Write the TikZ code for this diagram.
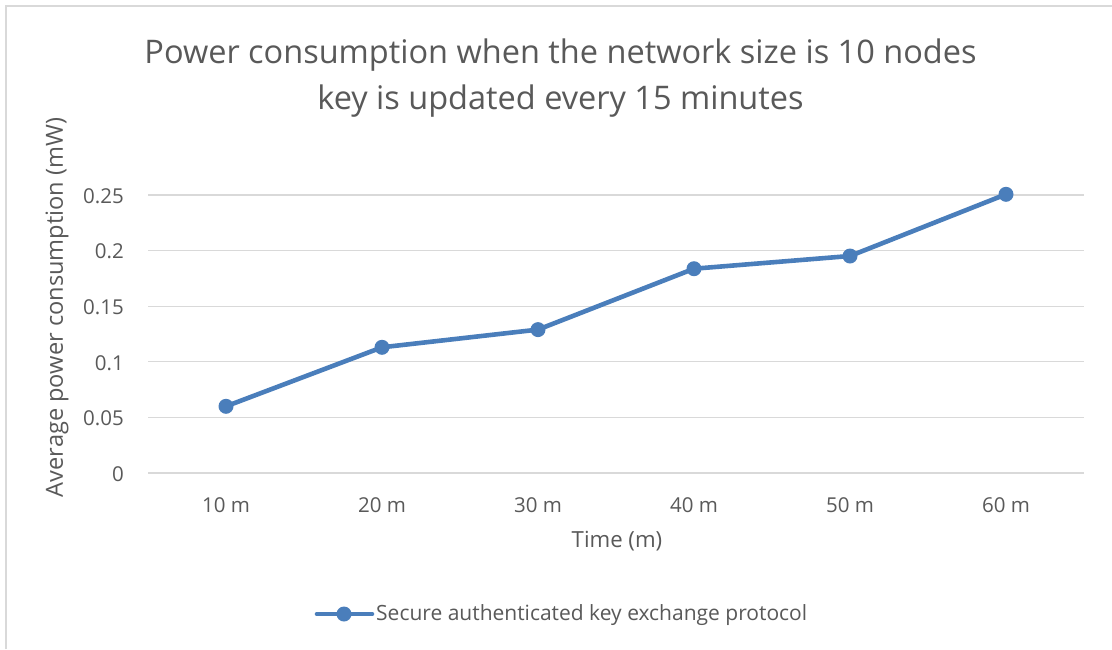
\documentclass[tikz,border=0pt]{standalone}
\usepackage{fontspec}
\setmainfont{Open Sans}
\definecolor{txt}{HTML}{595959}
\definecolor{grid}{HTML}{D9D9D9}
\definecolor{series}{HTML}{4A7EBB}
\tikzset{
  lbl/.style={text=txt, inner sep=0pt, anchor=base},
  ticklbl/.style={lbl, font=\fontsize{20.5}{24}\selectfont},
  gridline/.style={draw=grid, line width=1.3pt},
  frameline/.style={draw=grid, line width=1.6pt},
  seriesline/.style={draw=series, line width=4.6pt, line join=round, line cap=round},
  dot/.style={circle, fill=series, minimum size=15pt, inner sep=0pt},
}
\begin{document}
\begin{tikzpicture}[x=1pt, y=-1pt]
\useasboundingbox (0,0) rectangle (1112,649);
\fill[white] (0,0) rectangle (1112,649);
% chart frame (left and top edges)
\coordinate (fb) at (6,649);
\coordinate (fc) at (6,6);
\coordinate (fr) at (1112,6);
\draw[frameline] (fb) -- (fc) -- (fr);

% title
\node[lbl, font=\fontsize{32.5}{38}\selectfont] (t1) at (560.5,63) {Power consumption when the network size is 10 nodes};
\node[lbl, font=\fontsize{32.5}{38}\selectfont] (t2) at (560.5,109) {key is updated every 15 minutes};

% horizontal grid lines and y tick labels
\foreach \v/\lab [count=\i] in {0/0, 0.05/0.05, 0.1/0.1, 0.15/0.15, 0.2/0.2, 0.25/0.25} {
  \pgfmathsetmacro{\yy}{473-\v*1112}
  \coordinate (gl\i) at (148,\yy);
  \coordinate (gr\i) at (1084,\yy);
  \draw[gridline] (gl\i) -- (gr\i);
  \node[ticklbl, anchor=base east] (yt\i) at (124,\yy+8.3) {\lab};
}

% x tick labels
\foreach \c [count=\i] in {10,20,30,40,50,60} {
  \node[ticklbl] (xt\i) at (70+156*\i,512) {\c\ m};
}

% axis titles
\node[lbl, font=\fontsize{22.2}{26}\selectfont] (xtitle) at (617,547) {Time (m)};
\node[lbl, font=\fontsize{23.6}{28}\selectfont, rotate=90, anchor=center] (ytitle) at (57,307.5) {Average power consumption (mW)};

% data series
\node[dot] (p1) at (226,406.3) {};
\node[dot] (p2) at (382,347.3) {};
\node[dot] (p3) at (538,329.6) {};
\node[dot] (p4) at (694,268.7) {};
\node[dot] (p5) at (850,256.0) {};
\node[dot] (p6) at (1006,194.3) {};
\draw[seriesline] (p1.center) -- (p2.center) -- (p3.center) -- (p4.center) -- (p5.center) -- (p6.center);

% legend
\coordinate (la) at (317,614);
\coordinate (lb) at (372,614);
\draw[seriesline] (la) -- (lb);
\node[dot] (lm) at (344,614) {};
\node[lbl, font=\fontsize{21}{24}\selectfont, anchor=base west] (ltext) at (376,620) {Secure authenticated key exchange protocol};
\end{tikzpicture}
\end{document}
